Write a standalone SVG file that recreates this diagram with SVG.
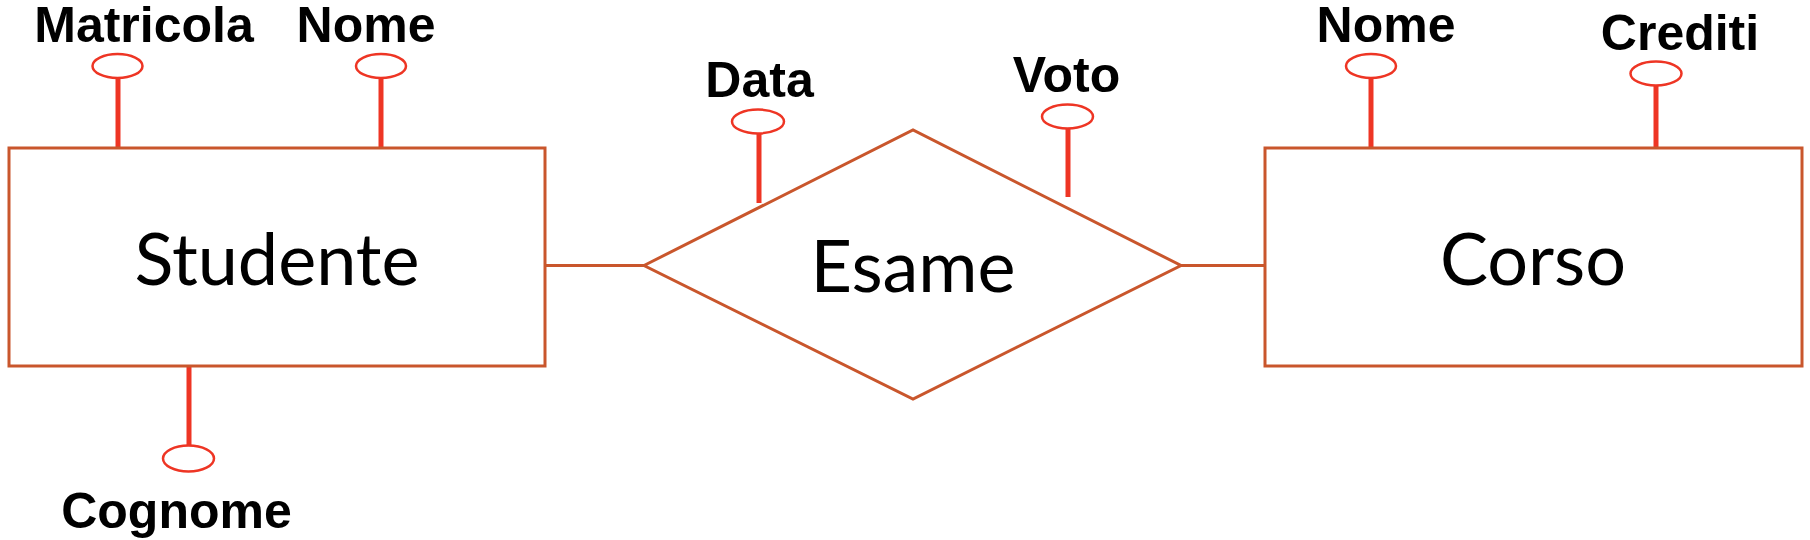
<svg xmlns="http://www.w3.org/2000/svg" width="1810" height="540" viewBox="0 0 1810 540">
<style>
.shape{fill:#fff;stroke:#C9562C;stroke-width:3}
.link{stroke:#C9562C;stroke-width:3;fill:none}
.stem{stroke:#EE3524;stroke-width:5;fill:none}
.attr{fill:#fff;stroke:#EE3524;stroke-width:2.5}
.big{font-family:Lato,"Open Sans",sans-serif;font-size:72px;fill:#000;text-anchor:middle}
.lbl{font-family:"Liberation Sans",Arial,sans-serif;font-weight:bold;font-size:50px;fill:#000;text-anchor:middle}
</style>
<rect width="1810" height="540" fill="#fff"/>
<g id="connectors">
<line class="link" x1="545" y1="265.5" x2="644" y2="265.5"/>
<line class="link" x1="1181" y1="265.5" x2="1265" y2="265.5"/>
<line class="stem" x1="118" y1="78" x2="118" y2="148"/>
<line class="stem" x1="381" y1="78" x2="381" y2="148"/>
<line class="stem" x1="189" y1="366" x2="189" y2="446"/>
<line class="stem" x1="759" y1="133.5" x2="759" y2="203"/>
<line class="stem" x1="1068" y1="128.5" x2="1068" y2="197"/>
<line class="stem" x1="1371" y1="78" x2="1371" y2="148"/>
<line class="stem" x1="1656" y1="85.5" x2="1656" y2="155"/>
</g>
<g id="studente">
<rect class="shape" x="9" y="148" width="536" height="218"/>
<text class="big" x="277" y="285">Studente</text>
</g>
<g id="esame">
<polygon class="shape" points="644,265.5 913,130 1181,265.5 913,399"/>
<text class="big" x="913" y="292">Esame</text>
</g>
<g id="corso">
<rect class="shape" x="1265" y="148" width="537" height="218"/>
<text class="big" x="1533" y="285">Corso</text>
</g>
<g id="attr-matricola">
<ellipse class="attr" cx="117.5" cy="66" rx="25" ry="12"/>
<text class="lbl" x="144" y="42">Matricola</text>
</g>
<g id="attr-nome-studente">
<ellipse class="attr" cx="381" cy="66" rx="25" ry="12"/>
<text class="lbl" x="366" y="42">Nome</text>
</g>
<g id="attr-cognome">
<ellipse class="attr" cx="188.5" cy="458.5" rx="25.5" ry="13"/>
<text class="lbl" x="176.5" y="528">Cognome</text>
</g>
<g id="attr-data">
<ellipse class="attr" cx="758" cy="121.5" rx="26" ry="12"/>
<text class="lbl" x="759.5" y="97">Data</text>
</g>
<g id="attr-voto">
<ellipse class="attr" cx="1067.5" cy="116.5" rx="25.5" ry="12"/>
<text class="lbl" x="1066.5" y="92">Voto</text>
</g>
<g id="attr-nome-corso">
<ellipse class="attr" cx="1371" cy="66" rx="25" ry="12"/>
<text class="lbl" x="1386" y="42">Nome</text>
</g>
<g id="attr-crediti">
<ellipse class="attr" cx="1656" cy="73.5" rx="25.5" ry="12"/>
<text class="lbl" x="1680" y="49.5">Crediti</text>
</g>
</svg>
